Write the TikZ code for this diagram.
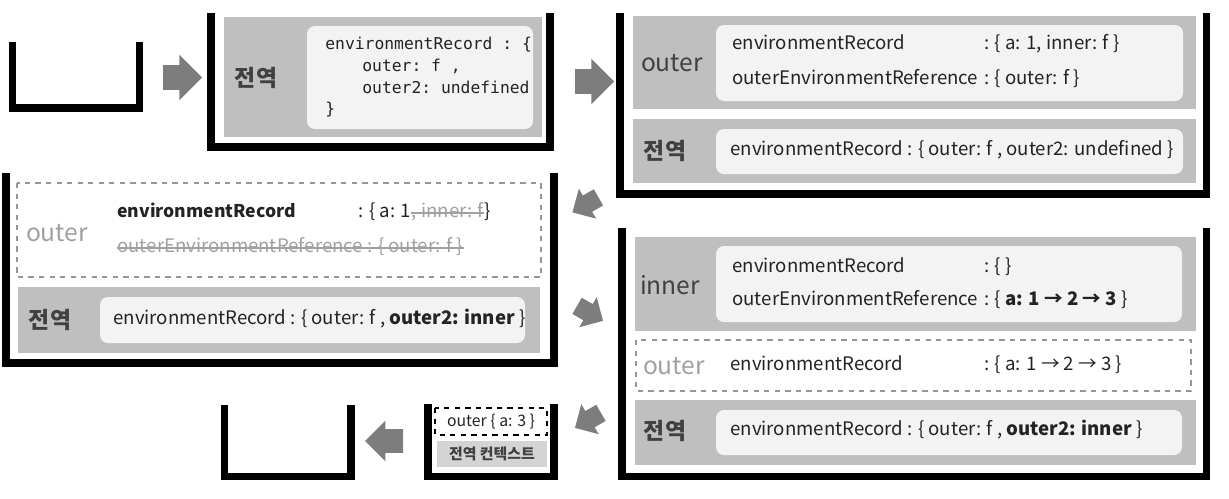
\documentclass[tikz,border=0pt]{standalone}
\usepackage{fontspec}
\setmainfont{Noto Sans CJK KR}
\setmonofont{DejaVu Sans Mono}
\usetikzlibrary{positioning,shapes.arrows}

\definecolor{framegray}{RGB}{191,191,191}
\definecolor{ctxgray}{RGB}{212,212,212}
\definecolor{recwhite}{RGB}{243,243,243}
\definecolor{arrowgray}{RGB}{125,125,125}
\definecolor{labelgray}{RGB}{64,64,64}
\definecolor{fadedgray}{RGB}{160,160,160}
\definecolor{dashgray}{RGB}{150,150,150}
\definecolor{textdark}{RGB}{35,35,35}

\tikzset{
    stackline/.style={line width=4pt, line join=miter},
    framebox/.style={fill=framegray},
    recbox/.style={fill=recwhite, rounded corners=0.16cm},
    deadbox/.style={draw=dashgray, dashed, line width=0.6pt},
    strike/.style={draw=fadedgray, line width=0.6pt},
    ctxname/.style={font=\fontsize{14}{16}\selectfont, text=labelgray, inner sep=0pt},
    gname/.style={font=\fontsize{13}{15}\selectfont\bfseries, text=labelgray, inner sep=0pt},
    rec/.style={font=\fontsize{10.6}{13}\selectfont, text=textdark, anchor=west, inner sep=0pt,
        text height=8pt, text depth=2.5pt},
    code/.style={font=\fontsize{9.3}{11}\selectfont\ttfamily, text=textdark, anchor=west, inner sep=0pt,
        text height=8pt, text depth=2.5pt},
    bigarrow/.style={single arrow, fill=arrowgray, inner xsep=0pt, inner ysep=0.24cm,
        minimum height=0.78cm, single arrow head extend=0.21cm},
    smallarrow/.style={bigarrow, inner ysep=0.18cm, minimum height=0.6cm, single arrow head extend=0.16cm}
}

\begin{document}
\begin{tikzpicture}[x=0.02cm, y=-0.02cm]
    \useasboundingbox (0,0) rectangle (1229,498);

    \draw [stackline] (12.5,42) -- (12.5,108) -- (139.5,108) -- (139.5,42);
    \node [bigarrow] (arr1) at (176.5,77.5) {};

    \fill [framebox] (224,17) rectangle (542,137);
    \fill [recbox] (307,26) rectangle (533,129);
    \node [gname] (s1glob) at (256,78) {전역};
    \node [code] (s1l1) at (325,45) {environmentRecord : \{};
    \node [code] (s1l2) at (362,67) {outer: f ,};
    \node [code] (s1l3) at (362,89) {outer2: undefined};
    \node [code] (s1l4) at (325,110) {\}};
    \draw [stackline] (211,13) -- (211,147) -- (550,147) -- (550,13);

    \node [bigarrow] (arr2) at (588.5,81.5) {};

    \fill [framebox] (633,16) rectangle (1196,109);
    \fill [recbox] (716,25) rectangle (1183,101);
    \fill [framebox] (633,119) rectangle (1196,183);
    \fill [recbox] (716,129) rectangle (1183,174);
    \node [ctxname] (s2outer) at (672,63) {outer};
    \node [rec] (s2env) at (732,45) {environmentRecord};
    \node [rec] (s2oer) at (732,80) {outerEnvironmentReference};
    \node [rec, right=3pt of s2oer] (s2oerval) {: \{ outer: f \}};
    \node [rec] (s2envval) at (s2oerval.west |- s2env) {: \{ a: 1, inner: f \}};
    \node [gname] (s2glob) at (665,151) {전역};
    \node [rec] (s2genv) at (730,151) {environmentRecord : \{ outer: f , outer2: undefined \}};
    \draw [stackline] (620,13) -- (620,194) -- (1206,194) -- (1206,13);

    \node [smallarrow, rotate=210] (arr3) at (589.5,202.5) {};

    \draw [deadbox] (17,183) rectangle (541,277);
    \fill [framebox] (18,287) rectangle (540,353);
    \fill [recbox] (100,297) rectangle (525,343);
    \node [ctxname, text=fadedgray] (s3outer) at (57,233) {outer};
    \node [rec, font=\fontsize{10}{12}\selectfont\bfseries] (s3env) at (117,213) {environmentRecord};
    \node [rec] (s3envval) at (358,213) {: \{ a: 1};
    \node [rec, text=fadedgray, right=0pt of s3envval] (s3dead) {, inner: f};
    \node [rec, right=0pt of s3dead] (s3close) {\}};
    \draw [strike] (s3dead.west) -- (s3dead.east);
    \node [rec, text=fadedgray] (s3oer) at (117,248) {outerEnvironmentReference : \{ outer: f \}};
    \draw [strike] (s3oer.west) -- (s3oer.east);
    \node [gname] (s3glob) at (50,320) {전역};
    \node [rec] (s3genv) at (113,320) {environmentRecord : \{ outer: f , \textbf{outer2: inner} \}};
    \draw [stackline] (6,173) -- (6,363) -- (554,363) -- (554,173);

    \node [smallarrow, rotate=-30] (arr4) at (586,311) {};

    \fill [framebox] (635,237) rectangle (1196,331);
    \fill [recbox] (716,246) rectangle (1182,322);
    \draw [deadbox] (636,340) rectangle (1191,391);
    \fill [framebox] (635,400) rectangle (1196,465);
    \fill [recbox] (716,410) rectangle (1182,455);
    \node [ctxname] (s4inner) at (670,285) {inner};
    \node [rec] (s4env) at (732,268) {environmentRecord};
    \node [rec] (s4oer) at (732,301) {outerEnvironmentReference};
    \node [rec, right=3pt of s4oer] (s4oerval) {: \{ \textbf{a: 1 → 2 → 3} \}};
    \node [rec] (s4envval) at (s4oerval.west |- s4env) {: \{ \}};
    \node [ctxname, text=fadedgray] (s4outer) at (674,366) {outer};
    \node [rec] (s4oenv) at (730,366) {environmentRecord};
    \node [rec] (s4oenvval) at (s4oerval.west |- s4oenv) {: \{ a: 1 → 2 → 3 \}};
    \node [gname] (s4glob) at (665,431) {전역};
    \node [rec] (s4genv) at (730,431) {environmentRecord : \{ outer: f , \textbf{outer2: inner} \}};
    \draw [stackline] (622,228) -- (622,476) -- (1206,476) -- (1206,228);

    \node [smallarrow, rotate=210] (arr5) at (592,418) {};

    \draw [dashed, line width=1.2pt] (435,408) rectangle (547,435);
    \fill [ctxgray] (437,441) rectangle (547,467);
    \node [font=\fontsize{9}{11}\selectfont, text=textdark, inner sep=0pt] (s5outer) at (491,422) {outer \{ a: 3 \}};
    \node [font=\fontsize{8.5}{10}\selectfont\bfseries, text=labelgray, inner sep=0pt] (s5glob) at (492,454) {전역 컨텍스트};
    \draw [stackline] (428,404) -- (428,476) -- (554,476) -- (554,404);

    \node [bigarrow, rotate=180, inner ysep=0.23cm, minimum height=0.76cm,
        single arrow head extend=0.17cm] (arr6) at (390,441) {};

    \draw [stackline] (224.5,405) -- (224.5,476) -- (351,476) -- (351,405);
\end{tikzpicture}
\end{document}
